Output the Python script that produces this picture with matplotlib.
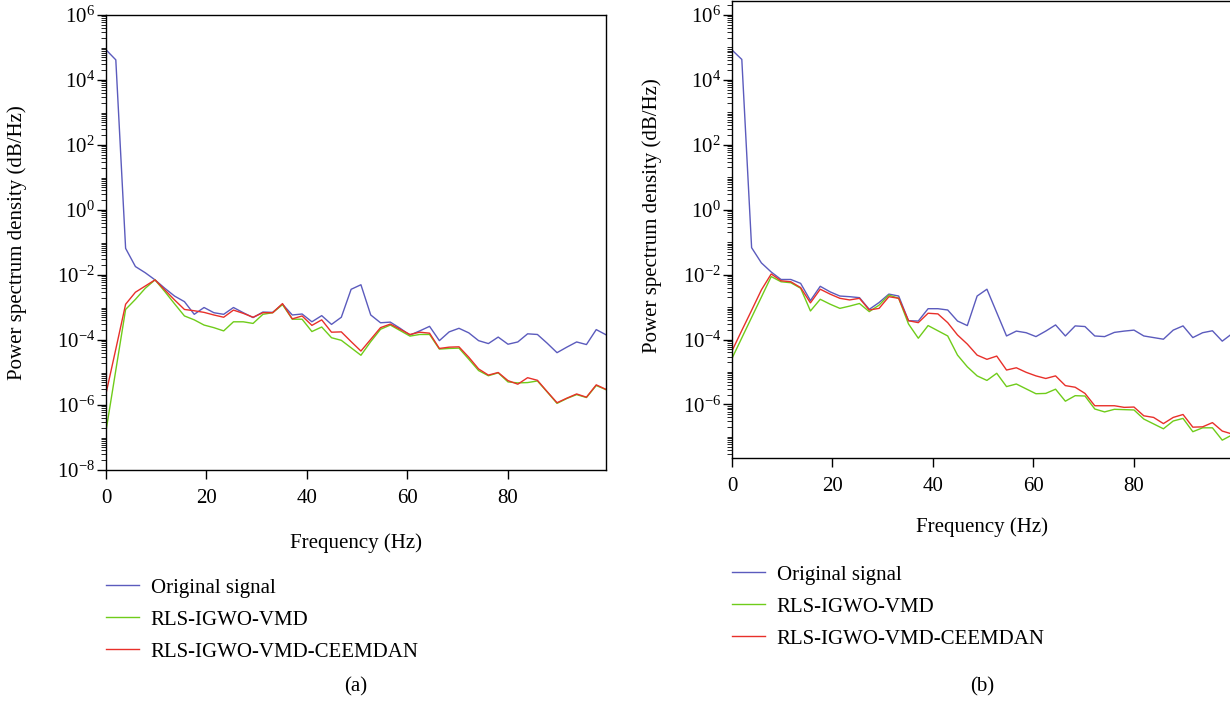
import numpy as np
import matplotlib
matplotlib.use("Agg")
import matplotlib.pyplot as plt
from matplotlib.ticker import FixedLocator, LogLocator, NullFormatter

# frequency grid (Hz), 52 bins of 250/128 Hz
freq = np.arange(52) * 1.953125

# log10 of PSD values
orig_a = [4.93, 4.62, -1.18, -1.74, -1.93, -2.15, -2.41, -2.65, -2.82, -3.21,
          -3.00, -3.16, -3.21, -3.00, -3.16, -3.31, -3.14, -3.15, -2.90, -3.23,
          -3.20, -3.44, -3.25, -3.52, -3.30, -2.44, -2.30, -3.23, -3.47, -3.45,
          -3.64, -3.85, -3.72, -3.58, -4.02, -3.75, -3.64, -3.78, -4.02, -4.11,
          -3.91, -4.13, -4.06, -3.81, -3.83, -4.10, -4.39, -4.22, -4.06, -4.14,
          -3.68, -3.84]
vmd_a = [-6.80, -4.93, -3.06, -2.75, -2.41, -2.15, -2.51, -2.89, -3.26, -3.38,
         -3.54, -3.62, -3.72, -3.44, -3.44, -3.49, -3.21, -3.16, -2.91, -3.36,
         -3.36, -3.74, -3.60, -3.93, -4.01, -4.24, -4.47, -4.05, -3.67, -3.54,
         -3.71, -3.88, -3.83, -3.83, -4.28, -4.26, -4.25, -4.59, -4.94, -5.10,
         -5.01, -5.29, -5.32, -5.31, -5.26, -5.60, -5.95, -5.80, -5.68, -5.77,
         -5.40, -5.53]
ceemdan_a = [-5.65, -4.28, -2.90, -2.53, -2.34, -2.15, -2.46, -2.77, -3.06, -3.10,
             -3.15, -3.23, -3.30, -3.08, -3.18, -3.30, -3.16, -3.16, -2.88, -3.35,
             -3.26, -3.55, -3.38, -3.76, -3.75, -4.05, -4.34, -3.98, -3.62, -3.51,
             -3.67, -3.83, -3.76, -3.79, -4.26, -4.22, -4.21, -4.53, -4.89, -5.08,
             -5.00, -5.25, -5.36, -5.16, -5.24, -5.59, -5.93, -5.79, -5.66, -5.76,
             -5.38, -5.52]

orig_b = [4.92, 4.63, -1.17, -1.64, -1.92, -2.15, -2.15, -2.27, -2.80, -2.36,
          -2.53, -2.66, -2.68, -2.71, -3.07, -2.86, -2.60, -2.66, -3.42, -3.43,
          -3.05, -3.05, -3.09, -3.43, -3.57, -2.66, -2.45, -3.17, -3.89, -3.74,
          -3.79, -3.91, -3.74, -3.55, -3.89, -3.58, -3.60, -3.89, -3.91, -3.78,
          -3.74, -3.71, -3.89, -3.94, -3.99, -3.71, -3.58, -3.94, -3.79, -3.73,
          -4.05, -3.82]
vmd_b = [-4.58, -3.95, -3.32, -2.69, -2.06, -2.22, -2.25, -2.42, -3.12, -2.76,
         -2.91, -3.04, -2.97, -2.89, -3.14, -2.94, -2.63, -2.73, -3.52, -3.96,
         -3.57, -3.73, -3.89, -4.48, -4.84, -5.12, -5.26, -5.04, -5.45, -5.37,
         -5.52, -5.67, -5.66, -5.53, -5.90, -5.73, -5.74, -6.14, -6.23, -6.15,
         -6.16, -6.17, -6.45, -6.60, -6.75, -6.51, -6.43, -6.84, -6.72, -6.72,
         -7.10, -6.94]
ceemdan_b = [-4.35, -3.72, -3.10, -2.47, -1.98, -2.19, -2.22, -2.40, -2.87, -2.45,
             -2.60, -2.73, -2.78, -2.73, -3.09, -3.04, -2.68, -2.73, -3.42, -3.48,
             -3.19, -3.21, -3.48, -3.86, -4.14, -4.48, -4.61, -4.51, -4.94, -4.87,
             -5.01, -5.12, -5.20, -5.12, -5.42, -5.47, -5.66, -6.04, -6.04, -6.04,
             -6.09, -6.08, -6.35, -6.40, -6.59, -6.40, -6.31, -6.70, -6.69, -6.56,
             -6.82, -6.91]

labels = ["Original signal", "RLS-IGWO-VMD", "RLS-IGWO-VMD-CEEMDAN"]
colors = ["#5b5bbd", "#6fcc1a", "#e8302a"]

plt.rcParams.update({
    "font.family": ["Liberation Serif", "DejaVu Serif"],
    "mathtext.fontset": "custom",
    "mathtext.rm": "Liberation Serif",
    "mathtext.it": "Liberation Serif:italic",
    "mathtext.bf": "Liberation Serif:bold",
    "font.size": 15,
})

W, H = 1230, 701
fig = plt.figure(figsize=(W / 100, H / 100), dpi=100)


def px_axes(l, t, r, b):
    return fig.add_axes([l / W, 1 - b / H, (r - l) / W, (b - t) / H])


panels = [
    (px_axes(106, 15, 606, 470), (orig_a, vmd_a, ceemdan_a), (1e-8, 1e6), (-0.158, 0.5), -0.14, (106, 578), "(a)"),
    (px_axes(732, 1, 1232, 458), (orig_b, vmd_b, ceemdan_b), (10 ** -7.65, 10 ** 6.43), (-0.141, 0.53), -0.13, (732, 565), "(b)"),
]

for ax, series, ylim, ylab_xy, xlab_y, leg_xy, tag in panels:
    for vals, lab, col in zip(series, labels, colors):
        ax.plot(freq, 10.0 ** np.array(vals), color=col, lw=1.0, label=lab)
    ax.set_yscale("log")
    ax.set_xlim(0, 99.6)
    ax.set_ylim(*ylim)
    ax.set_xticks([0, 20, 40, 60, 80])
    ax.yaxis.set_major_locator(FixedLocator(10.0 ** np.arange(-8, 7, 2)))
    ax.yaxis.set_minor_locator(LogLocator(base=10, subs=np.arange(1, 10), numticks=100))
    ax.yaxis.set_minor_formatter(NullFormatter())
    ax.tick_params(which="major", direction="out", length=6.5, width=1.0)
    ax.tick_params(axis="x", which="major", pad=7)
    ax.tick_params(axis="y", which="major", pad=1.5)
    ax.tick_params(which="minor", direction="out", length=3.6, width=0.6)
    for s in ax.spines.values():
        s.set_linewidth(1.0)
    ax.set_ylabel("Power spectrum density (dB/Hz)")
    ax.yaxis.set_label_coords(*ylab_xy)
    ax.set_xlabel("Frequency (Hz)")
    ax.xaxis.set_label_coords(0.5, xlab_y)
    ax.legend(loc="upper left", bbox_to_anchor=(leg_xy[0] / W, 1 - leg_xy[1] / H),
              bbox_transform=fig.transFigure, frameon=False, borderaxespad=0,
              borderpad=0, handlelength=1.6, handletextpad=0.55, labelspacing=0.6)
    cx = ax.get_position().x0 + 250 / W
    fig.text(cx, 1 - 687 / H, tag, ha="center", va="center")

fig.savefig("out.png", dpi=100)
